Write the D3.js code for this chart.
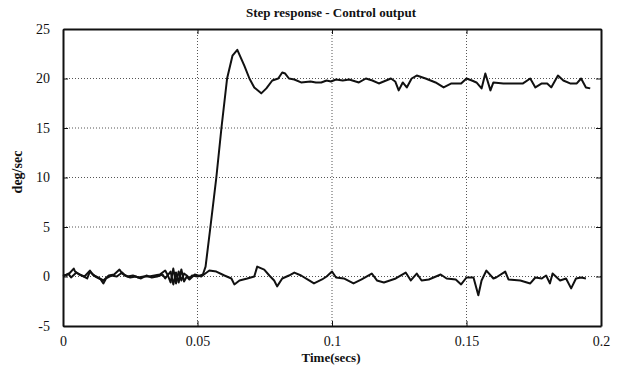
<!DOCTYPE html>
<html>
<head>
<meta charset="utf-8">
<script src="https://cdn.jsdelivr.net/npm/d3@7"></script>
<style>
  body { margin: 0; background: #fff; }
  svg text { font-family: "Liberation Serif", "DejaVu Serif", serif; fill: #111; }
</style>
</head>
<body>
<div id="chart"></div>
<script>
// step response trace (time in secs, value in deg/sec)
var stepTime = [0, 0.002, 0.004, 0.0045, 0.006, 0.008, 0.010, 0.011, 0.013, 0.015, 0.017, 0.019, 0.021, 0.022, 0.024, 0.026, 0.028, 0.030, 0.032, 0.034, 0.036, 0.038, 0.039, 0.040, 0.041, 0.042, 0.043, 0.044, 0.045, 0.046, 0.047, 0.048, 0.050, 0.052,
  0.053, 0.0548, 0.057, 0.0589, 0.061, 0.063, 0.0648, 0.0674, 0.0693, 0.0711, 0.0737, 0.0756, 0.0778, 0.080, 0.0815, 0.0826, 0.084, 0.086, 0.0885, 0.092, 0.094, 0.096, 0.098, 0.0996,
  0.1015, 0.104, 0.1064, 0.110, 0.1126, 0.115, 0.1174, 0.1219, 0.1235, 0.1248, 0.1263, 0.1278, 0.1296, 0.1315, 0.1348, 0.1385, 0.1415, 0.1444, 0.148, 0.150,
  0.152, 0.1537, 0.1556, 0.157, 0.1589, 0.160, 0.1637, 0.1674, 0.171, 0.1737, 0.1756, 0.178, 0.180, 0.1815, 0.184, 0.186, 0.1885, 0.191, 0.1926, 0.1944, 0.196];
var stepValue = [0.1, 0.2, 0.8, 0.5, 0.2, 0.0, 0.6, 0.2, -0.1, -0.4, 0.1, 0.2, 0.7, 0.3, 0.0, 0.1, -0.1, 0.0, 0.0, 0.1, 0.2, 0.6, 0.1, -0.6, 0.8, -0.7, 0.5, -0.4, 0.3, 0.1, -0.2, 0.1, 0.0, 0.2,
  1.0, 5, 10, 15, 20, 22.3, 22.9, 21.3, 20.0, 19.1, 18.5, 19.0, 19.8, 20.0, 20.6, 20.5, 20.0, 19.9, 19.6, 19.7, 19.6, 19.6, 19.8, 19.7,
  19.9, 19.8, 19.9, 19.6, 20.0, 19.8, 19.5, 20.0, 19.7, 18.8, 19.6, 19.1, 20.0, 20.3, 20.0, 19.6, 19.1, 19.5, 19.5, 20.0,
  19.8, 19.6, 19.0, 20.5, 18.8, 19.6, 19.5, 19.5, 19.5, 20.0, 19.1, 19.5, 19.5, 19.1, 20.3, 19.8, 19.5, 19.5, 20.0, 19.1, 19.0];

// second trace staying near zero
var zeroTime = [0, 0.002, 0.003, 0.005, 0.007, 0.009, 0.010, 0.012, 0.014, 0.015, 0.016, 0.018, 0.020, 0.022, 0.023, 0.025, 0.027, 0.029, 0.031, 0.033, 0.035, 0.037, 0.038, 0.040, 0.041, 0.042, 0.043, 0.044, 0.045, 0.046, 0.047, 0.049,
  0.0514, 0.0544, 0.057, 0.060, 0.0626, 0.0637, 0.0656, 0.0685, 0.0711, 0.0722, 0.0748, 0.0767, 0.0785, 0.0796, 0.0815, 0.084, 0.086, 0.0885, 0.0915, 0.0933, 0.0963, 0.098, 0.100,
  0.1015, 0.1044, 0.108, 0.111, 0.1148, 0.1167, 0.1193, 0.1237, 0.1274, 0.1293, 0.1315, 0.1333, 0.136, 0.1404, 0.1426, 0.146, 0.148, 0.150,
  0.1526, 0.1544, 0.1556, 0.1574, 0.160, 0.161, 0.1644, 0.1656, 0.170, 0.1737, 0.1756, 0.178, 0.1796, 0.181, 0.182, 0.1848, 0.187, 0.1889, 0.1907, 0.1926, 0.1944];
var zeroValue = [0.0, 0.3, -0.1, 0.4, 0.1, -0.2, 0.5, 0.0, -0.3, -0.7, -0.2, 0.1, 0.0, 0.4, 0.1, -0.1, 0.0, -0.2, 0.1, -0.1, 0.0, 0.2, -0.2, 0.5, -0.8, 0.4, -0.6, 0.7, -0.5, 0.0, -0.3, 0.2,
  0.0, 0.6, 0.5, 0.1, -0.2, -0.8, -0.4, -0.2, 0.0, 1.0, 0.7, 0.1, -0.4, -1.0, -0.2, 0.1, 0.4, 0.1, -0.4, -0.7, -0.3, 0.0, 0.5,
  -0.1, -0.2, -0.7, -0.3, 0.3, -0.4, -0.6, -0.2, 0.4, -0.4, 0.3, -0.4, -0.3, 0.2, -0.2, -0.3, -0.8, -0.1,
  -0.1, -1.9, -0.4, 0.6, -0.2, -0.1, 0.5, -0.3, -0.4, -0.7, -0.1, -0.2, 0.1, -0.7, 0.3, -0.4, -0.2, -1.2, -0.2, -0.1, -0.2];

var xTicks = [0, 0.05, 0.1, 0.15, 0.2];
var yTicks = [-5, 0, 5, 10, 15, 20, 25];

var svgWidth = 630, svgHeight = 367;
var margin = { top: 29, right: 29, bottom: 41, left: 63 };
var chartWidth = svgWidth - margin.left - margin.right;
var chartHeight = svgHeight - margin.top - margin.bottom;

var svg = d3.select("#chart").append("svg")
    .attr("width", svgWidth)
    .attr("height", svgHeight);

var chartGroup = svg.append("g")
    .attr("transform", `translate(${margin.left}, ${margin.top})`);

var xScale = d3.scaleLinear().domain([0, 0.2]).range([0, chartWidth]);
var yScale = d3.scaleLinear().domain([-5, 25]).range([chartHeight, 0]);

// dotted grid
chartGroup.append("g").selectAll("line")
    .data(xTicks.slice(1, -1))
    .enter().append("line")
    .attr("x1", d => xScale(d)).attr("x2", d => xScale(d))
    .attr("y1", 0).attr("y2", chartHeight)
    .attr("stroke", "#555").attr("stroke-width", 1)
    .attr("stroke-dasharray", "1,2");

chartGroup.append("g").selectAll("line")
    .data(yTicks.slice(1, -1))
    .enter().append("line")
    .attr("x1", 0).attr("x2", chartWidth)
    .attr("y1", d => yScale(d)).attr("y2", d => yScale(d))
    .attr("stroke", "#555").attr("stroke-width", 1)
    .attr("stroke-dasharray", "1,2");

// axes with inward ticks
var bottomAxis = d3.axisBottom(xScale).tickValues(xTicks).tickSizeInner(-5).tickSizeOuter(0).tickPadding(10)
    .tickFormat(d => d === 0 ? "0" : String(+d.toFixed(2)));
var leftAxis = d3.axisLeft(yScale).tickValues(yTicks).tickSizeInner(-5).tickSizeOuter(0).tickPadding(13)
    .tickFormat(d => String(d));
var topAxis = d3.axisTop(xScale).tickValues(xTicks).tickSizeInner(-5).tickSizeOuter(0).tickFormat("");
var rightAxis = d3.axisRight(yScale).tickValues(yTicks).tickSizeInner(-5).tickSizeOuter(0).tickFormat("");

function styleAxis(g) {
    g.select(".domain").attr("stroke", "#111").attr("stroke-width", 2);
    g.selectAll(".tick line").attr("stroke", "#111");
    g.selectAll(".tick text").attr("font-size", 14).attr("fill", "#111")
        .attr("font-family", "'Liberation Serif', 'DejaVu Serif', serif");
}

chartGroup.append("g").attr("transform", `translate(0, ${chartHeight})`).call(bottomAxis).call(styleAxis);
chartGroup.append("g").call(leftAxis).call(styleAxis);
chartGroup.append("g").call(topAxis).call(styleAxis);
chartGroup.append("g").attr("transform", `translate(${chartWidth}, 0)`).call(rightAxis).call(styleAxis);

// traces
var line = d3.line()
    .x(d => xScale(d[0]))
    .y(d => yScale(d[1]));

var stepData = stepTime.map((t, i) => [t, stepValue[i]]);
var zeroData = zeroTime.map((t, i) => [t, zeroValue[i]]);

[stepData, zeroData].forEach(function(series) {
    chartGroup.append("path")
        .datum(series)
        .attr("d", line)
        .attr("fill", "none")
        .attr("stroke", "#111")
        .attr("stroke-width", 2)
        .attr("stroke-linejoin", "round");
});

// labels
svg.append("text")
    .attr("x", 331).attr("y", 17)
    .attr("text-anchor", "middle")
    .attr("font-size", 13).attr("font-weight", "bold")
    .text("Step response - Control output");

svg.append("text")
    .attr("x", 331).attr("y", 362)
    .attr("text-anchor", "middle")
    .attr("font-size", 13).attr("font-weight", "bold")
    .text("Time(secs)");

svg.append("text")
    .attr("transform", "translate(22, 172) rotate(-90)")
    .attr("text-anchor", "middle")
    .attr("font-size", 14).attr("font-weight", "bold")
    .text("deg/sec");
</script>
</body>
</html>
